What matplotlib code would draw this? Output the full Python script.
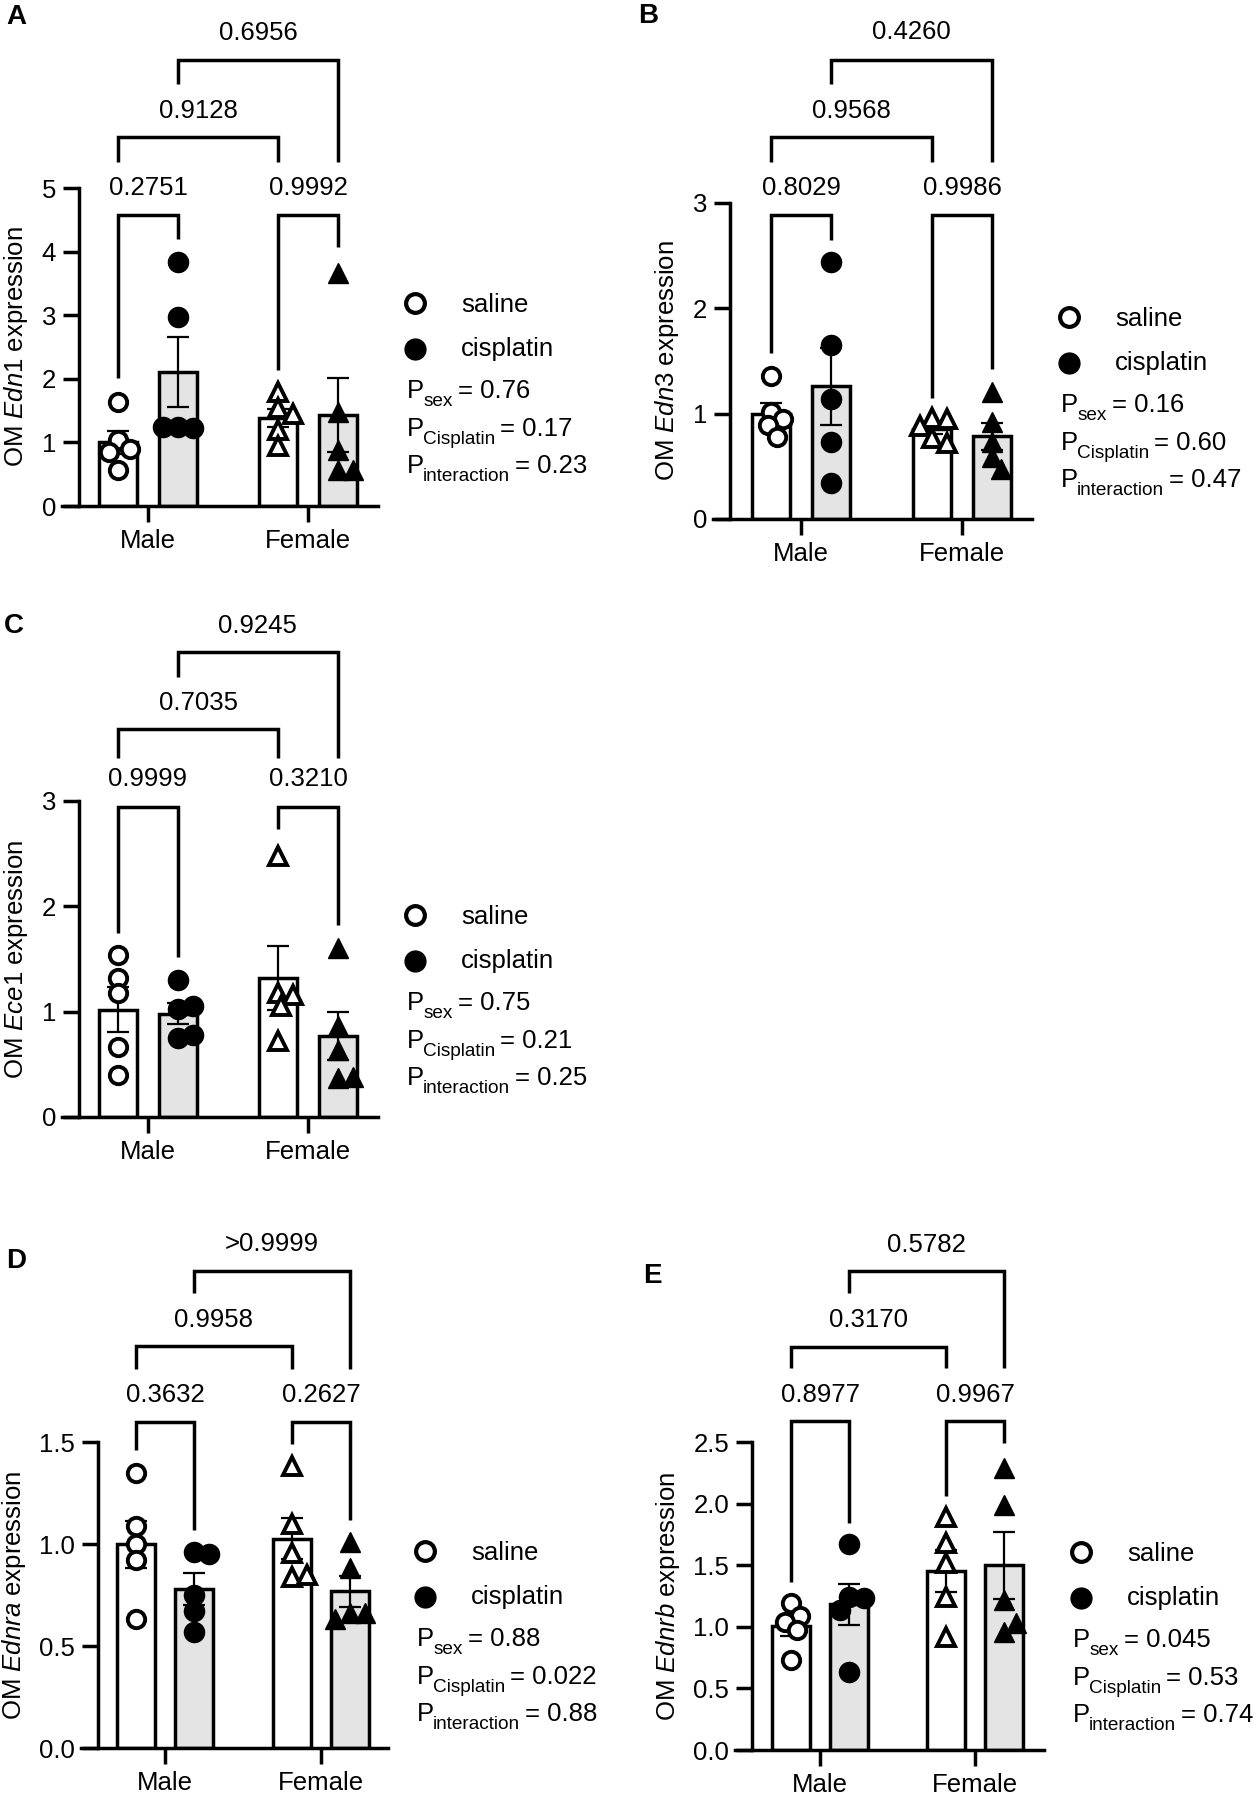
### Bar + scatter panels (mean with SEM) for the OM endothelin genes ###

import matplotlib
matplotlib.use('Agg')
import matplotlib.pyplot as plt
from matplotlib.lines import Line2D
import numpy as np

plt.rcParams['font.family'] = ['Liberation Sans', 'DejaVu Sans']
plt.rcParams['mathtext.fontset'] = 'custom'
plt.rcParams['mathtext.rm'] = 'Liberation Sans'
plt.rcParams['mathtext.it'] = 'Liberation Sans:italic'
plt.rcParams['mathtext.bf'] = 'Liberation Sans:bold'

groups = ['Male', 'Female']
treatments = ['saline', 'cisplatin']
anova_terms = ['sex', 'Cisplatin', 'interaction']

# Panel A - Edn1
edn1_male_saline = [1.64, 1.04, 0.90, 0.85, 0.57]
edn1_male_cis = [3.84, 2.97, 1.25, 1.22, 1.25]
edn1_female_saline = [1.79, 1.54, 1.45, 1.20, 0.95]
edn1_female_cis = [3.66, 1.48, 0.88, 0.57, 0.57]
edn1_pvals = ['0.2751', '0.9992', '0.9128', '0.6956']
edn1_anova = ['0.76', '0.17', '0.23']

# Panel B - Edn3
edn3_male_saline = [1.36, 1.02, 0.95, 0.89, 0.78]
edn3_male_cis = [2.44, 1.65, 1.14, 0.73, 0.34]
edn3_female_saline = [0.96, 0.95, 0.88, 0.77, 0.72]
edn3_female_cis = [1.21, 0.92, 0.73, 0.59, 0.47]
edn3_pvals = ['0.8029', '0.9986', '0.9568', '0.4260']
edn3_anova = ['0.16', '0.60', '0.47']

# Panel C - Ece1
ece1_male_saline = [1.54, 1.32, 1.18, 0.66, 0.40]
ece1_male_cis = [1.30, 1.03, 1.05, 0.75, 0.78]
ece1_female_saline = [2.48, 1.18, 1.16, 1.05, 0.72]
ece1_female_cis = [1.60, 0.86, 0.64, 0.37, 0.38]
ece1_pvals = ['0.9999', '0.3210', '0.7035', '0.9245']
ece1_anova = ['0.75', '0.21', '0.25']

# Panel D - Ednra
ednra_male_saline = [1.35, 1.09, 1.00, 0.92, 0.63]
ednra_male_cis = [0.96, 0.95, 0.75, 0.67, 0.57]
ednra_female_saline = [1.38, 1.10, 0.955, 0.84, 0.85]
ednra_female_cis = [1.01, 0.88, 0.66, 0.66, 0.63]
ednra_pvals = ['0.3632', '0.2627', '0.9958', '>0.9999']
ednra_anova = ['0.88', '0.022', '0.88']

# Panel E - Ednrb
ednrb_male_saline = [1.19, 1.09, 1.04, 0.97, 0.73]
ednrb_male_cis = [1.67, 1.24, 1.23, 1.14, 0.63]
ednrb_female_saline = [1.89, 1.68, 1.52, 1.24, 0.92]
ednrb_female_cis = [2.29, 1.99, 1.22, 0.96, 1.03]
ednrb_pvals = ['0.8977', '0.9967', '0.3170', '0.5782']
ednrb_anova = ['0.045', '0.53', '0.74']

# Bracket heights (y of bar, left leg end, right leg end, label)
edn1_brackets = [(4.58, 2.01, 4.20, 5.00), (4.58, 2.14, 4.07, 5.00),
                 (5.80, 5.41, 5.41, 6.21), (7.01, 6.64, 5.41, 7.44)]
edn3_brackets = [(2.89, 1.58, 2.65, 3.14), (2.89, 1.15, 1.42, 3.14),
                 (3.63, 3.39, 3.39, 3.87), (4.36, 4.13, 3.39, 4.62)]
ece1_brackets = [(2.94, 1.75, 1.52, 3.21), (2.94, 2.73, 1.82, 3.21),
                 (3.68, 3.41, 3.41, 3.93), (4.41, 4.18, 3.41, 4.66)]
ednra_brackets = [(1.60, 1.46, 1.07, 1.73), (1.60, 1.49, 1.12, 1.73),
                  (1.97, 1.86, 1.86, 2.10), (2.34, 2.23, 1.86, 2.47)]
ednrb_brackets = [(2.67, 1.36, 1.84, 2.88), (2.67, 2.06, 2.49, 2.88),
                  (3.27, 3.10, 3.10, 3.49), (3.89, 3.71, 3.10, 4.10)]
bracket_pairs = [(0, 1), (2, 3), (0, 2), (1, 3)]

W, H = 1258, 1800
fig = plt.figure(figsize=(W / 100, H / 100), dpi=100)
renderer = fig.canvas.get_renderer()

# Layout in pixels: letter, letter pos, spine x, male x, group spacing, y0, ytop, axis end
panels = [
    dict(letter='A', lpos=(16, 17), gene='Edn1', spine=79, male=148, sp=160, y0=506, ytop=188, end=378,
         ylab_dx=63, yticks=[0, 1, 2, 3, 4, 5], ylabels=['0', '1', '2', '3', '4', '5'],
         data=[edn1_male_saline, edn1_male_cis, edn1_female_saline, edn1_female_cis],
         pvals=edn1_pvals, anova=edn1_anova, brackets=edn1_brackets),
    dict(letter='B', lpos=(648, 16), gene='Edn3', spine=730, male=801, sp=161, y0=519, ytop=203, end=1032,
         ylab_dx=63, yticks=[0, 1, 2, 3], ylabels=['0', '1', '2', '3'],
         data=[edn3_male_saline, edn3_male_cis, edn3_female_saline, edn3_female_cis],
         pvals=edn3_pvals, anova=edn3_anova, brackets=edn3_brackets),
    dict(letter='C', lpos=(14, 626), gene='Ece1', spine=79, male=148, sp=160, y0=1117, ytop=801, end=378,
         ylab_dx=63, yticks=[0, 1, 2, 3], ylabels=['0', '1', '2', '3'],
         data=[ece1_male_saline, ece1_male_cis, ece1_female_saline, ece1_female_cis],
         pvals=ece1_pvals, anova=ece1_anova, brackets=ece1_brackets),
    dict(letter='D', lpos=(16, 1261), gene='Ednra', spine=98, male=165, sp=156, y0=1748, ytop=1442, end=388,
         ylab_dx=84, yticks=[0, 0.5, 1.0, 1.5], ylabels=['0.0', '0.5', '1.0', '1.5'],
         data=[ednra_male_saline, ednra_male_cis, ednra_female_saline, ednra_female_cis],
         pvals=ednra_pvals, anova=ednra_anova, brackets=ednra_brackets),
    dict(letter='E', lpos=(652, 1276), gene='Ednrb', spine=752, male=820, sp=155, y0=1750, ytop=1442, end=1044,
         ylab_dx=84, yticks=[0, 0.5, 1.0, 1.5, 2.0, 2.5], ylabels=['0.0', '0.5', '1.0', '1.5', '2.0', '2.5'],
         data=[ednrb_male_saline, ednrb_male_cis, ednrb_female_saline, ednrb_female_cis],
         pvals=ednrb_pvals, anova=ednrb_anova, brackets=ednrb_brackets),
]

LW = 2.5
FS = 18.5
OFFSET = 0.187
BAR_W = 0.24
TICK_LEN = 17


def fx(px):
    return px / W


def fy(py):
    return 1 - py / H


def swarm(ax, xc, vals, dmin=14, step=3):
    # spread overlapping points sideways, roughly like GraphPad does
    pts = ax.transData.transform(np.column_stack([np.full(len(vals), xc), vals]))
    placed = []
    for px_, py in pts:
        k = 0
        while True:
            off = ((k + 1) // 2) * step * (1 if k % 2 == 1 else -1)
            cand = px_ + off
            if all(np.hypot(cand - qx, py - qy) >= dmin for qx, qy in placed):
                break
            k += 1
        placed.append((cand, py))
    placed = np.array(placed)
    return ax.transData.inverted().transform(placed)[:, 0]


def p_text(x, y, sub, val):
    # "P" + subscript + "= value", placed piece by piece (pixel coords)
    t = fig.text(fx(x), fy(y), 'P', ha='left', va='baseline', fontsize=FS)
    x += t.get_window_extent(renderer).width - 1
    t = fig.text(fx(x), fy(y + 8), sub, ha='left', va='baseline', fontsize=FS * 0.74)
    x += t.get_window_extent(renderer).width + 5
    fig.text(fx(x), fy(y), '= ' + val, ha='left', va='baseline', fontsize=FS)


for p in panels:
    xstart = p['spine'] - TICK_LEN
    ax = fig.add_axes([fx(xstart), fy(p['y0']), (p['end'] - xstart) / W, (p['y0'] - p['ytop']) / H])
    ax.patch.set_visible(False)
    ax.set_xlim((xstart - p['male']) / p['sp'], (p['end'] - p['male']) / p['sp'])
    ax.set_ylim(0, p['yticks'][-1])
    ax.spines['left'].set_position(('data', (p['spine'] - p['male']) / p['sp']))
    ax.spines['top'].set_visible(False)
    ax.spines['right'].set_visible(False)
    ax.spines['left'].set_linewidth(LW)
    ax.spines['bottom'].set_linewidth(LW)
    ax.set_yticks(p['yticks'])
    ax.set_yticklabels(p['ylabels'])
    ax.set_xticks([0, 1])
    ax.set_xticklabels(groups)
    ax.tick_params(axis='both', width=LW, length=11.5, labelsize=FS, pad=5)

    xpos = []
    for i, vals in enumerate(p['data']):
        g, t = i // 2, i % 2
        x = g + (OFFSET if t == 1 else -OFFSET)
        xpos.append(x)
        vals = np.array(vals)
        mean = vals.mean()
        sem = vals.std(ddof=1) / np.sqrt(len(vals))
        ax.bar(x, mean, width=BAR_W, color='#e4e4e4' if t == 1 else 'white',
               edgecolor='black', linewidth=LW, zorder=1)
        ax.errorbar(x, mean, yerr=sem, fmt='none', ecolor='black', elinewidth=1.6,
                    capsize=8, capthick=1.6, zorder=2)
        marker = 'o' if g == 0 else '^'
        xs = swarm(ax, x, vals)
        if t == 0:
            ax.plot(xs, vals, linestyle='none', marker=marker, ms=12.5 if g == 0 else 13.5,
                    mfc='white', mec='black', mew=2.8, zorder=3, clip_on=False)
        else:
            ax.plot(xs, vals, linestyle='none', marker=marker, ms=14.5 if g == 0 else 15,
                    mfc='black', mec='black', mew=1, zorder=3, clip_on=False)

    # multiple comparison brackets
    for (a, b), (ybar, y1, y2, ytxt), lab in zip(bracket_pairs, p['brackets'], p['pvals']):
        ax.plot([xpos[a], xpos[a], xpos[b], xpos[b]], [y1, ybar, ybar, y2], color='black',
                lw=LW, clip_on=False, solid_joinstyle='miter', solid_capstyle='butt')
        ax.text((xpos[a] + xpos[b]) / 2, ytxt, lab, ha='center', va='center', fontsize=FS,
                clip_on=False)

    cy = (p['y0'] + p['ytop']) / 2
    # y label
    fig.text(fx(p['spine'] - p['ylab_dx']), fy(cy), 'OM $\\mathit{' + p['gene'] + '}$ expression',
             rotation=90, ha='center', va='center', fontsize=FS)

    # panel letter
    fig.text(fx(p['lpos'][0]), fy(p['lpos'][1]), p['letter'], ha='center', va='center',
             fontsize=20, fontweight='bold')

    # legend and two-way ANOVA results
    mx, tx, px0 = p['end'] + 37, p['end'] + 83, p['end'] + 29
    fig.add_artist(Line2D([fx(mx)], [fy(cy - 44)], marker='o', ms=13.5, mfc='white', mec='black',
                          mew=3, linestyle='none', transform=fig.transFigure))
    fig.add_artist(Line2D([fx(mx)], [fy(cy + 2)], marker='o', ms=15, mfc='black', mec='black',
                          mew=1, linestyle='none', transform=fig.transFigure))
    fig.text(fx(tx), fy(cy - 35), treatments[0], ha='left', va='baseline', fontsize=FS)
    fig.text(fx(tx), fy(cy + 9), treatments[1], ha='left', va='baseline', fontsize=FS)
    for term, val, dy in zip(anova_terms, p['anova'], [51, 89, 126]):
        p_text(px0, cy + dy, term, val)

plt.savefig('out.png', dpi=100, facecolor='white')
